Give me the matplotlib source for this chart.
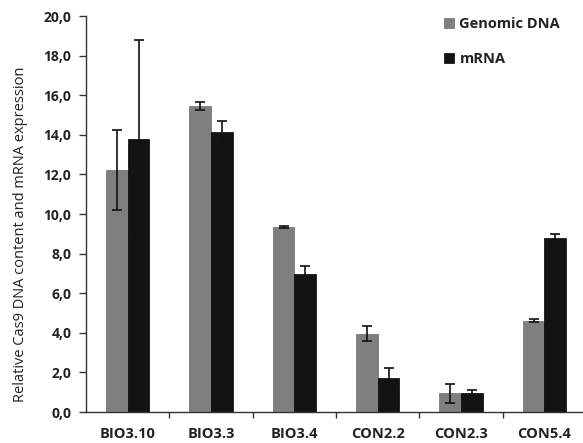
import matplotlib
matplotlib.use("Agg")
import matplotlib.pyplot as plt
import numpy as np
from matplotlib.ticker import FixedLocator

categories = ["BIO3.10", "BIO3.3", "BIO3.4", "CON2.2", "CON2.3", "CON5.4"]
genomic = [12.22, 15.47, 9.33, 3.96, 0.94, 4.61]
genomic_err = [2.0, 0.2, 0.05, 0.38, 0.47, 0.07]
mrna = [13.79, 14.12, 6.95, 1.72, 0.96, 8.77]
mrna_err = [5.0, 0.58, 0.42, 0.52, 0.17, 0.22]
yticks = [0, 2, 4, 6, 8, 10, 12, 14, 16, 18, 20]

plt.rcParams['font.family'] = ['Open Sans', 'DejaVu Sans']

W, H = 583, 443
fig = plt.figure(figsize=(W/100, H/100), dpi=100)
ax = fig.add_axes([86/W, 1-412/H, 1-86/W, (412-16)/H])

x = np.arange(len(categories))
w = 0.26
ekw = dict(elinewidth=1.2, capthick=1.2, ecolor="#111111")
ax.bar(x - w/2, genomic, w, color="#7f7f7f", edgecolor="#6a6a6a", linewidth=0.5,
       yerr=genomic_err, capsize=3.5, error_kw=ekw, label="Genomic DNA", zorder=2)
ax.bar(x + w/2, mrna, w, color="#131313", edgecolor="#000000", linewidth=0.5,
       yerr=mrna_err, capsize=3.5, error_kw=ekw, label="mRNA", zorder=2)

ax.set_xlim(-0.5, 5.5 - 3/83.3)
ax.set_ylim(0, 20)
ax.set_yticks(yticks)
ax.set_yticklabels([f"{v:.1f}".replace(".", ",") for v in yticks],
                   fontsize=10, fontweight="bold", color="#222222")
ax.set_xticks(x)
ax.set_xticklabels(categories, fontsize=10.5, fontweight="bold", color="#222222")
ax.tick_params(axis="x", which="major", length=0, pad=11)
ax.xaxis.set_minor_locator(FixedLocator(np.arange(0.5, 5.0, 1.0)))
ax.tick_params(axis="x", which="minor", length=4, width=1, direction="out", color="#333333")
ax.tick_params(axis="y", length=5, width=1, direction="out", color="#333333", pad=5.5)

for s in ["top", "right"]:
    ax.spines[s].set_visible(False)
for s in ["left", "bottom"]:
    ax.spines[s].set_linewidth(1.0)
    ax.spines[s].set_color("#333333")

fig.text(21/W, 1-234/H, "Relative Cas9 DNA content and mRNA expression",
         rotation=90, ha="center", va="center", fontsize=10.5, color="#222222")

leg = ax.legend(loc="upper left", bbox_to_anchor=(431/W, 1.0 - 4/H),
                bbox_transform=fig.transFigure, frameon=False,
                handlelength=0.7, handleheight=0.7, handletextpad=0.35,
                labelspacing=1.42, prop=dict(family=['Open Sans', 'DejaVu Sans'], weight="bold", size=10.5))
for t in leg.get_texts():
    t.set_color("#222222")

fig.savefig("out.png", dpi=100)
